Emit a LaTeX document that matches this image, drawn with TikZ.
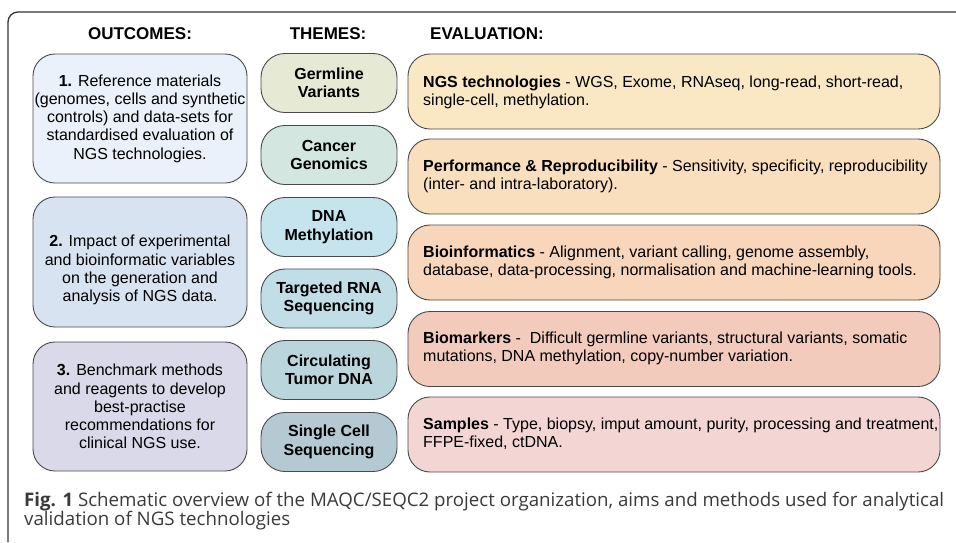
\documentclass[tikz,border=0pt]{standalone}
\usepackage{fontspec}
\setmainfont{Liberation Sans}
\newfontfamily\capfont{Open Sans}
\definecolor{bord}{HTML}{4A4A4A}
\definecolor{frame}{HTML}{333333}
\definecolor{capc}{HTML}{3A3A3A}
\definecolor{oA}{HTML}{EAF1FA}
\definecolor{oB}{HTML}{D8E3F1}
\definecolor{oC}{HTML}{D9D9EA}
\definecolor{tA}{HTML}{E6EAD4}
\definecolor{tB}{HTML}{D3E7E0}
\definecolor{tC}{HTML}{C6E4EE}
\definecolor{tD}{HTML}{C1DEE7}
\definecolor{tE}{HTML}{BBD5DD}
\definecolor{tF}{HTML}{B5C9D3}
\definecolor{eA}{HTML}{FAE7C3}
\definecolor{eB}{HTML}{F9DFBE}
\definecolor{eC}{HTML}{F8D6BC}
\definecolor{eD}{HTML}{F3CBBD}
\definecolor{eE}{HTML}{F3D6D4}
\begin{document}
\begin{tikzpicture}[x=1pt,y=-1pt,
  boxbase/.style={draw=bord, line width=0.9pt, inner sep=0pt},
  outbox/.style={boxbase, rounded corners=22pt, minimum width=214pt, minimum height=129pt, align=center,
    font=\fontsize{16}{18.2}\selectfont},
  themebox/.style={boxbase, rounded corners=24pt, minimum width=136pt, minimum height=59pt, align=center,
    font=\bfseries\fontsize{16}{18.5}\selectfont},
  evalbox/.style={boxbase, rounded corners=22pt, minimum width=532pt, minimum height=75pt},
  evaltext/.style={anchor=west, align=left, inner sep=0pt, font=\fontsize{16}{18}\selectfont},
  head/.style={inner sep=0pt, font=\bfseries\fontsize{17}{19}\selectfont},
  captext/.style={anchor=west, inner sep=0pt, text=capc, font=\capfont\fontsize{18.7}{20}\selectfont}
]
\useasboundingbox (0,0) rectangle (956,542);
% frame
\draw[frame, line width=1.3pt, rounded corners=10pt] (8,542) -- (8,12) -- (957,12);

% headers
\node[head] (hout) at (140,34) {OUTCOMES:};
\node[head] (hthe) at (328,34) {THEMES:};
\node[head, anchor=west] (heva) at (430,34) {EVALUATION:};

% outcomes
\node[outbox, fill=oA] (o1) at (140,118.5) {\textbf{1.} Reference materials\\(genomes, cells and synthetic\\controls) and data-sets for\\standardised evaluation of\\NGS technologies.};
\node[outbox, fill=oB, minimum height=130pt] (o2) at (140,262) {};
\node[align=center, inner sep=0pt, font=\fontsize{16}{18.2}\selectfont] (o2t) at (140,270) {\textbf{2.} Impact of experimental\\and bioinformatic variables\\on the generation and\\analysis of NGS data.};
\node[outbox, fill=oC] (o3) at (140,406.5) {\textbf{3.} Benchmark methods\\and reagents to develop\\best-practise\\recommendations for\\clinical NGS use.};

% themes
\node[themebox, fill=tA] (t1) at (329,83) {Germline\\Variants};
\node[themebox, fill=tB] (t2) at (329,155) {Cancer\\Genomics};
\node[themebox, fill=tC] (t3) at (329,227) {DNA\\Methylation};
\node[themebox, fill=tD] (t4) at (329,298.5) {Targeted RNA\\Sequencing};
\node[themebox, fill=tE] (t5) at (329,370) {Circulating\\Tumor DNA};
\node[themebox, fill=tF] (t6) at (329,442) {Single Cell\\Sequencing};

% evaluation
\node[evalbox, fill=eA] (e1) at (674,91.5) {};
\node[evalbox, fill=eB] (e2) at (674,176.5) {};
\node[evalbox, fill=eC] (e3) at (674,262.5) {};
\node[evalbox, fill=eD] (e4) at (674,349) {};
\node[evalbox, fill=eE] (e5) at (674,434.5) {};
\node[evaltext] (e1t) at (423,92) {\textbf{NGS technologies} - WGS, Exome, RNAseq, long-read, short-read,\\single-cell, methylation.};
\node[evaltext] (e2t) at (423,176) {\textbf{Performance \& Reproducibility} - Sensitivity, specificity, reproducibility\\(inter- and intra-laboratory).};
\node[evaltext] (e3t) at (423,262) {\textbf{Bioinformatics} - Alignment, variant calling, genome assembly,\\database, data-processing, normalisation and machine-learning tools.};
\node[evaltext] (e4t) at (423,348) {\textbf{Biomarkers} -\ \ Difficult germline variants, structural variants, somatic\\mutations, DNA methylation, copy-number variation.};
\node[evaltext] (e5t) at (423,434) {\textbf{Samples} - Type, biopsy, imput amount, purity, processing and treatment,\\FFPE-fixed, ctDNA.};

% caption
\node[captext] (cap1) at (24,502) {\textbf{Fig. 1} Schematic overview of the MAQC/SEQC2 project organization, aims and methods used for analytical};
\node[captext] (cap2) at (24,521) {validation of NGS technologies};
\end{tikzpicture}
\end{document}
